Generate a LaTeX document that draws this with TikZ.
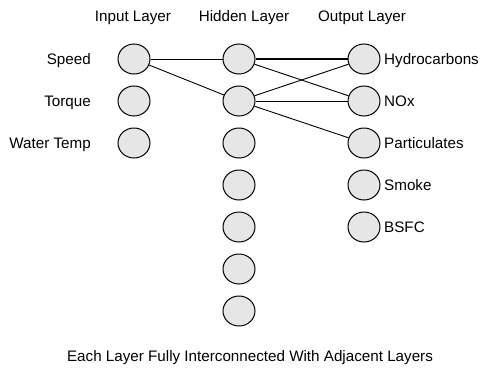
\documentclass[tikz,border=0pt]{standalone}
\usepackage{fontspec}
\setmainfont{Liberation Sans}
\usepackage{tikz}
\usetikzlibrary{shapes.geometric}
\definecolor{cellgray}{HTML}{E6E6E6}
\newcommand{\lbl}{\fontsize{15.2}{18}\selectfont}

\begin{document}
\begin{tikzpicture}[x=1pt,y=-1pt,
    unit/.style={ellipse,draw=black,fill=cellgray,line width=1pt,
                 minimum width=32pt,minimum height=30pt,inner sep=0pt},
    link/.style={line width=0.9pt},
    strong/.style={line width=1.7pt},
    txt/.style={font=\lbl,inner sep=0pt}]
     \useasboundingbox (0,0) rectangle (481,372);
     % headings
     \node[txt,anchor=base] (hin)  at (133,21) {Input Layer};
     \node[txt,anchor=base] (hhid) at (244,21) {Hidden Layer};
     \node[txt,anchor=base] (hout) at (362,21) {Output Layer};
     % input layer
     \node[unit] (in1) at (134, 59) {};
     \node[unit] (in2) at (134,101) {};
     \node[unit] (in3) at (134,143) {};
     % hidden layer
     \node[unit] (hid1) at (239, 59) {};
     \node[unit] (hid2) at (239,101) {};
     \node[unit] (hid3) at (239,143) {};
     \node[unit] (hid4) at (239,185) {};
     \node[unit] (hid5) at (239,227) {};
     \node[unit] (hid6) at (239,269) {};
     \node[unit] (hid7) at (239,311) {};
     % output layer
     \node[unit] (out1) at (364, 59) {};
     \node[unit] (out2) at (364,101) {};
     \node[unit] (out3) at (364,143) {};
     \node[unit] (out4) at (364,185) {};
     \node[unit] (out5) at (364,227) {};
     % input names
     \node[txt,anchor=base east] (lspeed)  at (91, 64) {Speed};
     \node[txt,anchor=base east] (ltorque) at (91,106) {Torque};
     \node[txt,anchor=base east] (lwater)  at (91,148) {Water Temp};
     % output names
     \node[txt,anchor=base west] (lhc)    at (384, 64) {Hydrocarbons};
     \node[txt,anchor=base west] (lnox)   at (384,106) {NOx};
     \node[txt,anchor=base west] (lpart)  at (384,148) {Particulates};
     \node[txt,anchor=base west] (lsmoke) at (384,190) {Smoke};
     \node[txt,anchor=base west] (lbsfc)  at (384,232) {BSFC};
     % connections
     \draw[link]   (in1)  -- (hid1);
     \draw[link]   (in1)  -- (hid2);
     \draw[strong] (hid1) -- (out1);
     \draw[link]   (hid1) -- (out2);
     \draw[link]   (hid2) -- (out1);
     \draw[link]   (hid2) -- (out2);
     \draw[link]   (hid2) -- (out3);
     % caption
     \node[txt,anchor=base] (note) at (250,361) {Each Layer Fully Interconnected With Adjacent Layers};
    \end{tikzpicture}
\end{document}
